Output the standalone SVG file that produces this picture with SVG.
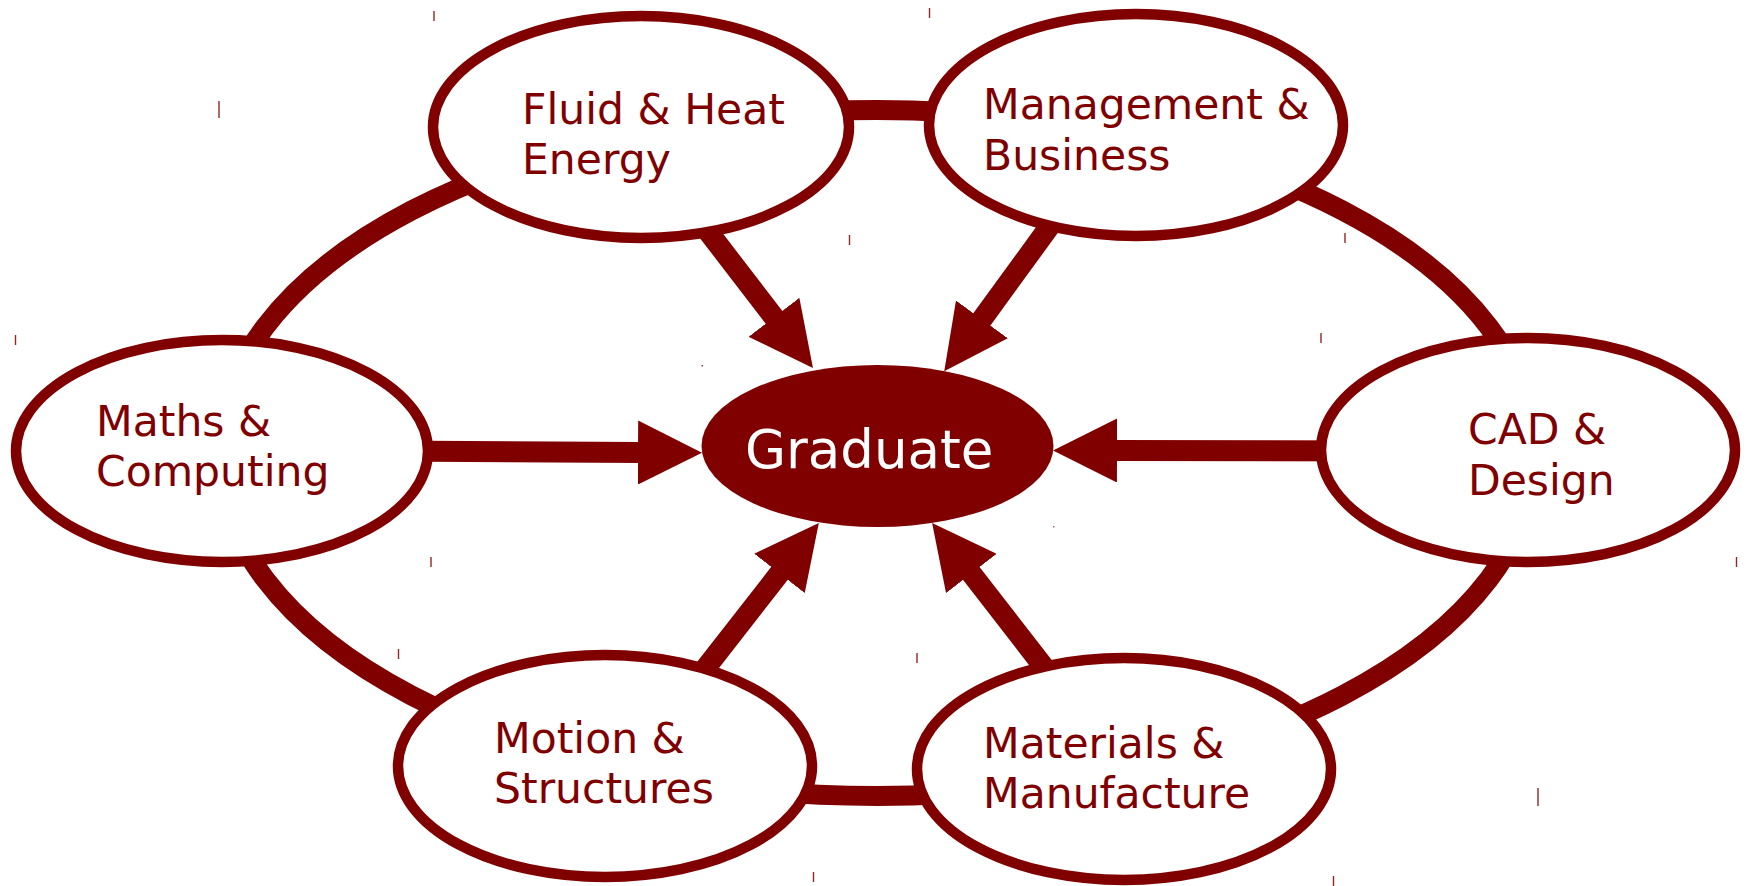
<svg xmlns="http://www.w3.org/2000/svg" width="1750" height="886" viewBox="0 0 1750 886">
<style>
.bg{fill:#ffffff}
.ring{fill:none;stroke:#800000;stroke-width:20}
.arrow{fill:none;stroke:#800000;stroke-width:21;marker-end:url(#head)}
.node{fill:#ffffff;stroke:#800000;stroke-width:10.5}
.hub{fill:#800000;stroke:none}
.lbl{font-family:"DejaVu Sans","Noto Sans",sans-serif;font-size:42.5px;fill:#800000}
.hublbl{font-family:"DejaVu Sans","Noto Sans",sans-serif;font-size:53px;fill:#ffffff}
.tick{stroke:#800000;stroke-width:1.4;opacity:0.85}
</style>
<defs>
<marker id="head" markerUnits="userSpaceOnUse" viewBox="0 0 64 64" markerWidth="64" markerHeight="64" refX="2" refY="32" orient="auto">
<path d="M0,0 L64,32 L0,64 Z" fill="#800000"/>
</marker>
</defs>
<rect class="bg" x="0" y="0" width="1750" height="886"/>
<g id="connectors">
<ellipse class="ring" cx="877" cy="453" rx="658" ry="343"/>
<path class="arrow" d="M300,450.5 L640,452.5"/>
<path class="arrow" d="M1420,451 L1115,450.5"/>
<path class="arrow" d="M700,221 L775.2,318.9"/>
<path class="arrow" d="M1052,223 L980.7,321"/>
<path class="arrow" d="M701,674 L780.7,571.8"/>
<path class="arrow" d="M1050,675 L970.1,571.9"/>
</g>
<g id="node-graduate">
<ellipse class="hub" cx="877.5" cy="446" rx="176" ry="81"/>
<text class="hublbl" x="745" y="468">Graduate</text>
</g>
<g id="node-fluid">
<ellipse class="node" cx="641" cy="127" rx="208" ry="111"/>
<text class="lbl" x="522" y="124">Fluid &amp; Heat</text>
<text class="lbl" x="522" y="174">Energy</text>
</g>
<g id="node-management">
<ellipse class="node" cx="1136" cy="125" rx="207" ry="111"/>
<text class="lbl" x="983" y="119">Management &amp;</text>
<text class="lbl" x="983" y="170">Business</text>
</g>
<g id="node-maths">
<ellipse class="node" cx="222" cy="451" rx="206" ry="111"/>
<text class="lbl" x="96" y="436">Maths &amp;</text>
<text class="lbl" x="96" y="486">Computing</text>
</g>
<g id="node-cad">
<ellipse class="node" cx="1528" cy="450" rx="207" ry="112"/>
<text class="lbl" x="1468" y="444">CAD &amp;</text>
<text class="lbl" x="1468" y="495">Design</text>
</g>
<g id="node-motion">
<ellipse class="node" cx="605" cy="766" rx="207" ry="111"/>
<text class="lbl" x="494" y="753">Motion &amp;</text>
<text class="lbl" x="494" y="803">Structures</text>
</g>
<g id="node-materials">
<ellipse class="node" cx="1124" cy="769" rx="207" ry="111"/>
<text class="lbl" x="983" y="758">Materials &amp;</text>
<text class="lbl" x="983" y="808">Manufacture</text>
</g>
<g id="ticks">
<line class="tick" x1="434" y1="11" x2="434" y2="21"/>
<line class="tick" x1="849.5" y1="235" x2="849.5" y2="245"/>
<line class="tick" x1="929.5" y1="8" x2="929.5" y2="18"/>
<line class="tick" x1="1345" y1="233" x2="1345" y2="243"/>
<line class="tick" x1="15.5" y1="335" x2="15.5" y2="345"/>
<line class="tick" x1="431" y1="557" x2="431" y2="567"/>
<line class="tick" x1="1321" y1="333" x2="1321" y2="343"/>
<line class="tick" x1="1736.5" y1="557" x2="1736.5" y2="567"/>
<line class="tick" x1="398.5" y1="649" x2="398.5" y2="659"/>
<line class="tick" x1="813.5" y1="872" x2="813.5" y2="882"/>
<line class="tick" x1="917" y1="653" x2="917" y2="663"/>
<line class="tick" x1="1333.5" y1="876" x2="1333.5" y2="886"/>
<line class="tick" x1="219" y1="101" x2="219" y2="118"/>
<line class="tick" x1="1538" y1="788" x2="1538" y2="806"/>
<rect x="701.5" y="365" width="1.5" height="1.5" fill="#800000" opacity="0.8"/>
<rect x="1053" y="526" width="1.5" height="1.5" fill="#800000" opacity="0.6"/>
</g>
</svg>
